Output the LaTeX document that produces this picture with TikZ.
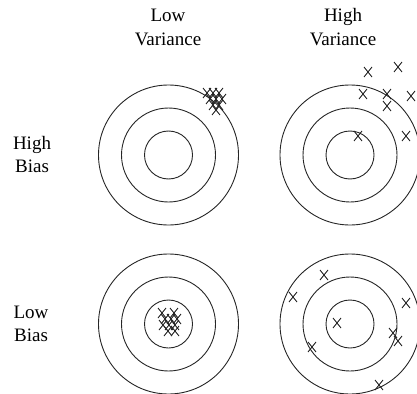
\documentclass[tikz,border=0pt]{standalone}
\usepackage{fontspec}
\setmainfont{Liberation Serif}
\begin{document}
\begin{tikzpicture}[x=1pt,y=-1pt,
  ring/.style={circle, draw=black!85, line width=0.9pt, inner sep=0pt},
  outer/.style={ring, minimum size=140pt},
  middle/.style={ring, minimum size=94pt},
  inner/.style={ring, minimum size=48pt},
  lbl/.style={align=center, font=\fontsize{19}{23.5}\selectfont, inner sep=0pt, anchor=base},
  xmk/.pic={\draw[black!85, line width=0.9pt] (-4,-5) -- (4,5) (-4,5) -- (4,-5);}]
\useasboundingbox (0,0) rectangle (417,393);
% labels (anchor = baseline of the last line)
\node[lbl] (lowvar) at (168,45.5) {Low\\Variance};
\node[lbl] (highvar) at (343,45.5) {High\\Variance};
\node[lbl] (highbias) at (32,172.5) {High\\Bias};
\node[lbl] (lowbias) at (31,341.5) {Low\\Bias};
% targets
\foreach \n/\cx/\cy in {tl/168.5/155, tr/350/155, bl/168.5/324, br/350/324}{
  \node[outer] (\n o) at (\cx,\cy) {};
  \node[middle] (\n m) at (\cx,\cy) {};
  \node[inner] (\n i) at (\cx,\cy) {};
}
% top-left: high bias, low variance
\foreach \p in {(207,93),(213,93),(219,93),(210,99),(216,99),(222,99),(213,105),(219,105),(216,110)}
  \pic at \p {xmk};
% bottom-left: low bias, low variance
\foreach \p in {(162,313),(174,313),(165,319),(171,319),(177,319),(163,325),(169,325),(175,325),(168,331),(175,331)}
  \pic at \p {xmk};
% top-right: high bias, high variance
\foreach \p in {(368,72),(398,67),(363,94),(387,94),(387,106),(411,96),(358,136),(406,136)}
  \pic at \p {xmk};
% bottom-right: low bias, high variance
\foreach \p in {(324,275),(293,297),(337,323),(406,303),(393,333),(398,341),(379,385),(312,347)}
  \pic at \p {xmk};
\end{tikzpicture}
\end{document}
